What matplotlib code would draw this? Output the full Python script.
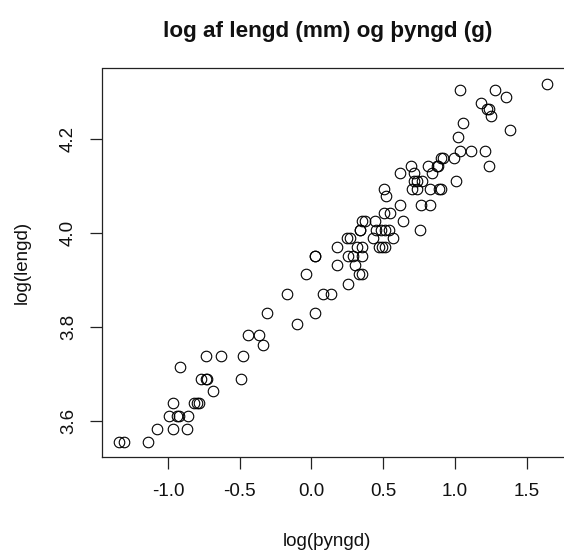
import matplotlib
matplotlib.use("Agg")
import matplotlib.pyplot as plt

# log(þyngd) values
x_vals = [
    1.645, 1.036, 1.282, 1.354, 1.180, 1.222, 1.240, 1.252, 1.054, 1.384,
    1.024, 1.036, 1.112, 1.210, 1.236, 0.901, 0.919, 0.996, 0.692, 0.810,
    0.873, 0.880, 0.615, 0.838, 0.715, 0.715, 0.733, 0.768, 0.703, 0.733,
    0.826, 0.891, 0.901, 1.005, 0.506, 0.517, 0.615, 0.764, 0.828, 0.506,
    0.547, 0.636, 0.354, 0.373, 0.443, 0.336, 0.340, 0.452, 0.483, 0.513,
    0.543, 0.754, 0.245, 0.268, 0.427, 0.571, 0.175, 0.320, 0.354, 0.471,
    0.489, 0.513, 0.022, 0.026, 0.257, 0.292, 0.354, 0.175, 0.303, -0.038,
    0.331, 0.354, 0.255, -0.173, 0.078, 0.134, -0.312, 0.022, -0.103, -0.445,
    -0.368, -0.340, -0.734, -0.633, -0.476, -0.917, -0.773, -0.736, -0.727, -0.492,
    -0.689, -0.964, -0.819, -0.801, -0.782, -0.996, -0.936, -0.922, -0.863, -1.075,
    -0.964, -0.866, -1.345, -1.308, -1.138,
]

# log(lengd) values
y_vals = [
    4.317, 4.304, 4.304, 4.290, 4.277, 4.263, 4.263, 4.248, 4.234, 4.220,
    4.205, 4.174, 4.174, 4.174, 4.143, 4.159, 4.159, 4.159, 4.143, 4.143,
    4.143, 4.143, 4.127, 4.127, 4.127, 4.111, 4.111, 4.111, 4.094, 4.094,
    4.094, 4.094, 4.094, 4.111, 4.094, 4.078, 4.060, 4.060, 4.060, 4.043,
    4.043, 4.025, 4.025, 4.025, 4.025, 4.007, 4.007, 4.007, 4.007, 4.007,
    4.007, 4.007, 3.989, 3.989, 3.989, 3.989, 3.970, 3.970, 3.970, 3.970,
    3.970, 3.970, 3.951, 3.951, 3.951, 3.951, 3.951, 3.932, 3.932, 3.912,
    3.912, 3.912, 3.892, 3.871, 3.871, 3.871, 3.829, 3.829, 3.807, 3.784,
    3.784, 3.761, 3.738, 3.738, 3.738, 3.714, 3.689, 3.689, 3.689, 3.689,
    3.664, 3.638, 3.638, 3.638, 3.638, 3.611, 3.611, 3.611, 3.611, 3.583,
    3.583, 3.583, 3.555, 3.555, 3.555,
]

x_ticks = [-1.0, -0.5, 0.0, 0.5, 1.0, 1.5]
y_ticks = [3.6, 3.8, 4.0, 4.2]

title = "log af lengd (mm) og þyngd (g)"
x_label = "log(þyngd)"
y_label = "log(lengd)"

plt.rcParams['font.family'] = ['Liberation Sans', 'DejaVu Sans']

W, H = 564, 552
fig = plt.figure(figsize=(W / 100, H / 100), dpi=100)
left, right, bottom, top = 101.7, 565.0, 456.7, 68.5
ax = fig.add_axes([left / W, 1 - bottom / H, (right - left) / W, (bottom - top) / H])

ax.plot(x_vals, y_vals, linestyle='none', marker='o', markersize=7.6,
        markerfacecolor='none', markeredgecolor='black', markeredgewidth=0.8)

ax.set_xlim(-1.463, 1.768)
ax.set_ylim(3.524, 4.350)
ax.set_xticks(x_ticks)
ax.set_xticklabels([f"{v:.1f}" for v in x_ticks])
ax.set_yticks(y_ticks)
ax.set_yticklabels([f"{v:.1f}" for v in y_ticks], rotation=90, va='center')

for s in ax.spines.values():
    s.set_linewidth(0.9)
    s.set_color('#222222')
ax.tick_params(axis='both', length=8.7, width=0.9, color='#222222',
               labelsize=13.5, labelcolor='#111111')
ax.tick_params(axis='x', pad=10)
ax.tick_params(axis='y', pad=9)

fig.text(328 / W, 1 - 31 / H, title, ha='center', va='center',
         fontsize=16.2, fontweight='bold', color='#111111')
fig.text(327 / W, 1 - 541 / H, x_label, ha='center', va='center',
         fontsize=13.5, color='#111111')
fig.text(22 / W, 1 - 262 / H, y_label, ha='center', va='center',
         rotation=90, fontsize=13.5, color='#111111')

fig.savefig("out.png", dpi=100)
